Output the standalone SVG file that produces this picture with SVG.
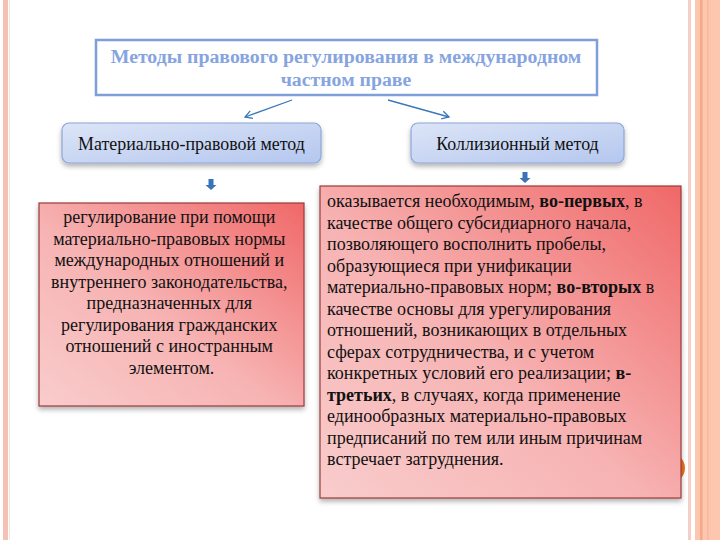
<svg xmlns="http://www.w3.org/2000/svg" width="720" height="540" viewBox="0 0 720 540">
<defs>
<style>
.t{font-family:"Liberation Serif","Times New Roman",serif;fill:#111}
.title{font-family:"Liberation Serif","Times New Roman",serif;font-weight:bold;fill:#86a4df;font-size:19.8px}
.node{font-size:17.9px}
.body{font-size:18px}
.conn{stroke:#3a78b8;stroke-width:1.3;fill:none}
.blk{fill:#3b73b9}
</style>
<linearGradient id="blue" x1="0" y1="0" x2="1" y2="1">
<stop offset="0" stop-color="#dce5f7"/>
<stop offset="1" stop-color="#b5c7ef"/>
</linearGradient>
<linearGradient id="red" x1="0" y1="1" x2="1" y2="0">
<stop offset="0" stop-color="#f9cccc"/>
<stop offset="0.45" stop-color="#f7b3b3"/>
<stop offset="1" stop-color="#f06868"/>
</linearGradient>
<filter id="sh" x="-10%" y="-10%" width="120%" height="130%">
<feDropShadow dx="0" dy="3" stdDeviation="2.5" flood-color="#000" flood-opacity="0.3"/>
</filter>
<marker id="ah" markerWidth="10" markerHeight="10" refX="8" refY="5" orient="auto" markerUnits="userSpaceOnUse">
<path d="M1,1 L8,5 L1,9" fill="none" stroke="#3a78b8" stroke-width="1.3"/>
</marker>
</defs>
<rect width="720" height="540" fill="#fff"/>
<!-- frame stripes -->
<rect x="3" y="0" width="5" height="540" fill="#f4c2b4"/>
<rect x="9" y="0" width="1" height="540" fill="#fbe6df"/>
<rect x="688" y="0" width="3" height="540" fill="#f3cfc6"/>
<rect x="695" y="0" width="25" height="540" fill="#fdc6ae"/>
<rect x="700" y="0" width="2.5" height="540" fill="#f4a98a"/>
<rect x="707" y="0" width="1.5" height="540" fill="#fbb79b"/>
<circle cx="670" cy="468" r="15" fill="#e8741c"/>

<g id="title">
<rect x="96" y="40" width="501" height="55" fill="#fff" stroke="#7f9fd9" stroke-width="2.5"/>
<text class="title" x="346" y="63" text-anchor="middle">Методы правового регулирования в международном</text>
<text class="title" x="346" y="86" text-anchor="middle">частном праве</text>
</g>

<g id="connectors">
<line class="conn" x1="292" y1="100" x2="245" y2="117" marker-end="url(#ah)"/>
<line class="conn" x1="388" y1="100" x2="449" y2="117" marker-end="url(#ah)"/>
<path class="blk" d="M208.5,179 h5 v6 h3 l-5.5,5 l-5.5,-5 h3 z"/>
<path class="blk" d="M522.5,172 h5 v6 h3 l-5.5,5 l-5.5,-5 h3 z"/>
</g>

<g id="material">
<rect x="62" y="123" width="259" height="40" rx="7" fill="url(#blue)" stroke="#8ea6d8" stroke-width="1.2" filter="url(#sh)"/>
<text class="t node" x="191.5" y="150" text-anchor="middle">Материально-правовой метод</text>
</g>

<g id="collision">
<rect x="411" y="123" width="213" height="40" rx="7" fill="url(#blue)" stroke="#8ea6d8" stroke-width="1.2" filter="url(#sh)"/>
<text class="t node" x="517.5" y="150" text-anchor="middle">Коллизионный метод</text>
</g>

<g id="material-desc">
<rect x="39" y="203" width="265" height="203" fill="url(#red)" stroke="#9c3a3a" stroke-width="1.2" filter="url(#sh)"/>
<text class="t body" text-anchor="middle">
<tspan x="171.5" y="223">регулирование при помощи</tspan>
<tspan x="171.5" y="244.5">материально-правовых нормы</tspan>
<tspan x="171.5" y="266">международных отношений и</tspan>
<tspan x="171.5" y="287.5">внутреннего законодательства,</tspan>
<tspan x="171.5" y="309">предназначенных для</tspan>
<tspan x="171.5" y="330.5">регулирования гражданских</tspan>
<tspan x="171.5" y="352">отношений с иностранным</tspan>
<tspan x="171.5" y="373.5">элементом.</tspan>
</text>
</g>

<g id="collision-desc">
<rect x="320" y="186" width="361" height="312" fill="url(#red)" stroke="#9c3a3a" stroke-width="1.2" filter="url(#sh)"/>
<text class="t body">
<tspan x="327" y="207">оказывается необходимым, <tspan font-weight="bold">во-первых</tspan>, в</tspan>
<tspan x="327" y="228.5">качестве общего субсидиарного начала,</tspan>
<tspan x="327" y="250">позволяющего восполнить пробелы,</tspan>
<tspan x="327" y="271.5">образующиеся при унификации</tspan>
<tspan x="327" y="293">материально-правовых норм; <tspan font-weight="bold">во-вторых</tspan> в</tspan>
<tspan x="327" y="314.5">качестве основы для урегулирования</tspan>
<tspan x="327" y="336">отношений, возникающих в отдельных</tspan>
<tspan x="327" y="357.5">сферах сотрудничества, и с учетом</tspan>
<tspan x="327" y="379">конкретных условий его реализации; <tspan font-weight="bold">в-</tspan></tspan>
<tspan x="327" y="400.5"><tspan font-weight="bold">третьих</tspan>, в случаях, когда применение</tspan>
<tspan x="327" y="422">единообразных материально-правовых</tspan>
<tspan x="327" y="443.5">предписаний по тем или иным причинам</tspan>
<tspan x="327" y="465">встречает затруднения.</tspan>
</text>
</g>
</svg>
